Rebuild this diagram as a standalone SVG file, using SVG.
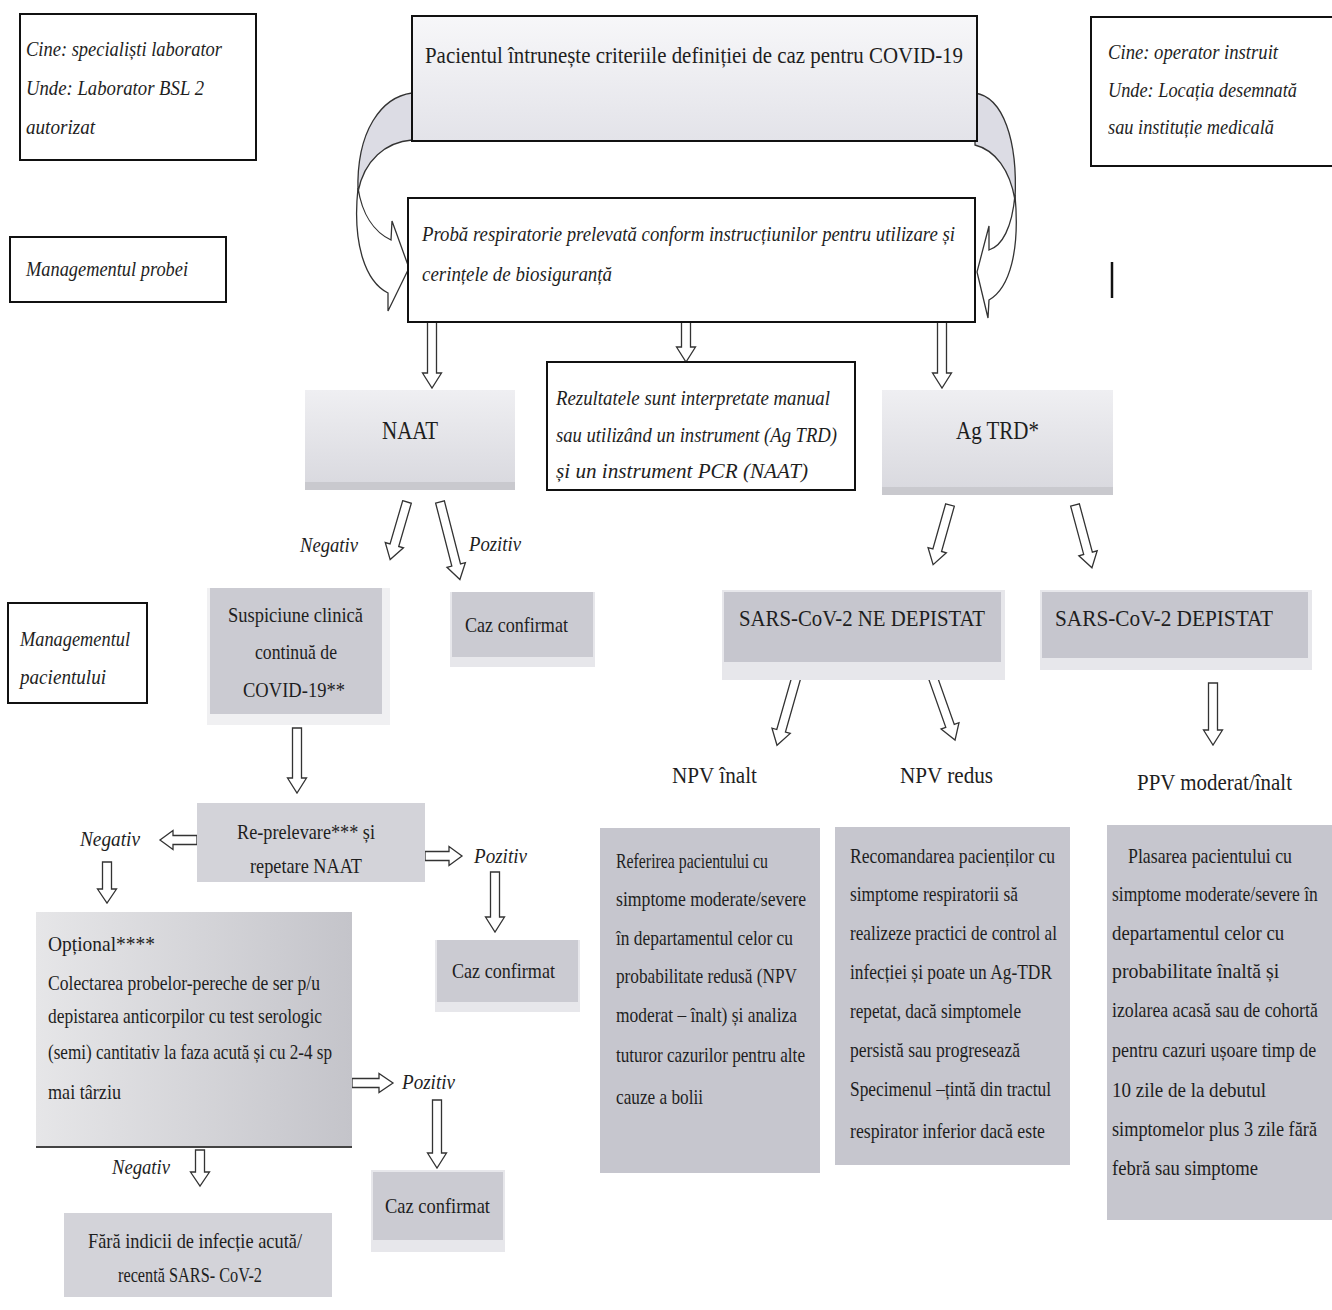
<svg xmlns="http://www.w3.org/2000/svg" width="1332" height="1310" viewBox="0 0 1332 1310">
<defs>
<linearGradient id="gTop" x1="0" y1="0" x2="0" y2="1"><stop offset="0" stop-color="#f7f7f9"/><stop offset="1" stop-color="#e3e3e9"/></linearGradient>
<linearGradient id="gLight" x1="0" y1="0" x2="0" y2="1"><stop offset="0" stop-color="#efeff2"/><stop offset="1" stop-color="#d8d8de"/></linearGradient>
<linearGradient id="gOpt" x1="0" y1="0" x2="1" y2="0"><stop offset="0" stop-color="#e6e6e8"/><stop offset="1" stop-color="#c4c4ca"/></linearGradient>
<style>
.t{font-family:"Liberation Serif","Times New Roman",serif;fill:#1e1e1e}
.i{font-style:italic}
.s20{font-size:20px}
.s21{font-size:21px}
.s24{font-size:24px}
.s26{font-size:26px}
.box{fill:#ffffff;stroke:#111111;stroke-width:2}
.gry{fill:#cbcbd2}
.mid{fill:#d3d3d9}
.strip{fill:#e7e7eb}
.arr{fill:#ffffff;stroke:#333333;stroke-width:1.3}
.band{fill:#dcdce4;stroke:#333333;stroke-width:1.3}
.bandw{fill:#ffffff;stroke:#333333;stroke-width:1.3}
</style>
</defs>
<rect width="1332" height="1310" fill="#ffffff"/>

<g id="connectors">
<path class="band" d="M412,93 C382,97 356,130 358,192 C364,160 386,142 412,140 Z"/>
<path class="bandw" d="M358,188 C362,214 374,232 391,240 L392,221 L409,268 L388,311 L388,293 C366,282 352,245 358,188 Z"/>
<path class="band" d="M975,93 C1003,97 1018,140 1015,200 C1010,170 995,150 975,145 Z"/>
<path class="bandw" d="M1015,195 C1012,228 1002,246 989,250 L989,226 L977,272 L988,318 L989,300 C1010,288 1020,250 1015,195 Z"/>
<path class="arr" transform="translate(432,322)" d="M-4.5,0 H4.5 V51 H9.5 L0,66 L-9.5,51 H-4.5 Z"/>
<path class="arr" transform="translate(686,322)" d="M-4.5,0 H4.5 V25 H9.5 L0,40 L-9.5,25 H-4.5 Z"/>
<path class="arr" transform="translate(942,322)" d="M-4.5,0 H4.5 V51 H9.5 L0,66 L-9.5,51 H-4.5 Z"/>
<path class="arr" transform="translate(407,502) rotate(16.3)" d="M-4.5,0 H4.5 V45 H9.5 L0,60 L-9.5,45 H-4.5 Z"/>
<path class="arr" transform="translate(440,502) rotate(-14.4)" d="M-4.5,0 H4.5 V65 H9.5 L0,80 L-9.5,65 H-4.5 Z"/>
<path class="arr" transform="translate(950,505) rotate(15.8)" d="M-4.5,0 H4.5 V47 H9.5 L0,62 L-9.5,47 H-4.5 Z"/>
<path class="arr" transform="translate(1075,505) rotate(-15.1)" d="M-4.5,0 H4.5 V50 H9.5 L0,65 L-9.5,50 H-4.5 Z"/>
<path class="arr" transform="translate(297,728)" d="M-4.5,0 H4.5 V50 H9.5 L0,65 L-9.5,50 H-4.5 Z"/>
<path class="arr" transform="translate(197,840) rotate(90)" d="M-4.5,0 H4.5 V24 H9.5 L0,37 L-9.5,24 H-4.5 Z"/>
<path class="arr" transform="translate(425,856) rotate(-90)" d="M-4.5,0 H4.5 V24 H9.5 L0,37 L-9.5,24 H-4.5 Z"/>
<path class="arr" transform="translate(107,862)" d="M-4.5,0 H4.5 V27 H9.5 L0,41 L-9.5,27 H-4.5 Z"/>
<path class="arr" transform="translate(495,872)" d="M-4.5,0 H4.5 V45 H9.5 L0,60 L-9.5,45 H-4.5 Z"/>
<path class="arr" transform="translate(352,1083) rotate(-90)" d="M-4.5,0 H4.5 V27 H9.5 L0,41 L-9.5,27 H-4.5 Z"/>
<path class="arr" transform="translate(437,1100)" d="M-4.5,0 H4.5 V53 H9.5 L0,68 L-9.5,53 H-4.5 Z"/>
<path class="arr" transform="translate(200,1150)" d="M-4.5,0 H4.5 V22 H9.5 L0,36 L-9.5,22 H-4.5 Z"/>
<path class="arr" transform="translate(797,675) rotate(15.9)" d="M-4.5,0 H4.5 V58 H9.5 L0,73 L-9.5,58 H-4.5 Z"/>
<path class="arr" transform="translate(932,675) rotate(-19.5)" d="M-4.5,0 H4.5 V54 H9.5 L0,69 L-9.5,54 H-4.5 Z"/>
<path class="arr" transform="translate(1213,683)" d="M-4.5,0 H4.5 V47 H9.5 L0,62 L-9.5,47 H-4.5 Z"/>
</g>

<g id="lbl-negativ1"><text class="t i s20" x="300" y="552" textLength="58" lengthAdjust="spacingAndGlyphs">Negativ</text></g>
<g id="lbl-pozitiv1"><text class="t i s20" x="469" y="551" textLength="52" lengthAdjust="spacingAndGlyphs">Pozitiv</text></g>
<g id="lbl-negativ2"><text class="t i s20" x="80" y="846" textLength="60" lengthAdjust="spacingAndGlyphs">Negativ</text></g>
<g id="lbl-pozitiv2"><text class="t i s20" x="474" y="863" textLength="53" lengthAdjust="spacingAndGlyphs">Pozitiv</text></g>
<g id="lbl-pozitiv3"><text class="t i s20" x="402" y="1089" textLength="53" lengthAdjust="spacingAndGlyphs">Pozitiv</text></g>
<g id="lbl-negativ3"><text class="t i s20" x="112" y="1174" textLength="58" lengthAdjust="spacingAndGlyphs">Negativ</text></g>
<g id="lbl-npv-inalt"><text class="t s24" x="672" y="783" textLength="85" lengthAdjust="spacingAndGlyphs">NPV înalt</text></g>
<g id="lbl-npv-redus"><text class="t s24" x="900" y="783" textLength="93" lengthAdjust="spacingAndGlyphs">NPV redus</text></g>
<g id="lbl-ppv"><text class="t s24" x="1137" y="790" textLength="155" lengthAdjust="spacingAndGlyphs">PPV moderat/înalt</text></g>
<line x1="1112" y1="262" x2="1112" y2="298" stroke="#111" stroke-width="2.5"/>

<g id="who-lab">
<rect class="box" x="20" y="14" width="236" height="146"/>
<text class="t i s20" x="26" y="56" textLength="196" lengthAdjust="spacingAndGlyphs">Cine: specialiști laborator</text>
<text class="t i s20" x="26" y="95" textLength="178" lengthAdjust="spacingAndGlyphs">Unde: Laborator BSL 2</text>
<text class="t i s20" x="26" y="134" textLength="69" lengthAdjust="spacingAndGlyphs">autorizat</text>
</g>
<g id="mgmt-proba">
<rect class="box" x="10" y="237" width="216" height="65"/>
<text class="t i s20" x="26" y="276" textLength="162" lengthAdjust="spacingAndGlyphs">Managementul probei</text>
</g>
<g id="who-op">
<rect class="box" x="1091" y="17" width="250" height="149"/>
<text class="t i s20" x="1108" y="59" textLength="170" lengthAdjust="spacingAndGlyphs">Cine: operator instruit</text>
<text class="t i s20" x="1108" y="97" textLength="189" lengthAdjust="spacingAndGlyphs">Unde: Locația desemnată</text>
<text class="t i s20" x="1108" y="134" textLength="166" lengthAdjust="spacingAndGlyphs">sau instituție medicală</text>
</g>
<g id="criteria">
<rect x="412" y="16" width="565" height="125" fill="url(#gTop)" stroke="#111" stroke-width="2"/>
<text class="t s24" x="425" y="63" textLength="538" lengthAdjust="spacingAndGlyphs">Pacientul întrunește criteriile definiției de caz pentru COVID-19</text>
</g>
<g id="proba">
<rect class="box" x="408" y="198" width="567" height="124"/>
<text class="t i s20" x="422" y="241" textLength="533" lengthAdjust="spacingAndGlyphs">Probă respiratorie prelevată conform instrucțiunilor pentru utilizare și</text>
<text class="t i s20" x="422" y="281" textLength="190" lengthAdjust="spacingAndGlyphs">cerințele de biosiguranță</text>
</g>
<g id="naat">
<rect x="305" y="390" width="210" height="100" fill="url(#gLight)"/>
<rect x="305" y="482" width="210" height="8" fill="#c9c9ce"/>
<text class="t s26" x="382" y="439" textLength="56" lengthAdjust="spacingAndGlyphs">NAAT</text>
</g>
<g id="rezultate">
<rect class="box" x="547" y="362" width="308" height="128"/>
<text class="t i s20" x="556" y="405" textLength="274" lengthAdjust="spacingAndGlyphs">Rezultatele sunt interpretate manual</text>
<text class="t i s20" x="556" y="442" textLength="281" lengthAdjust="spacingAndGlyphs">sau utilizând un instrument (Ag TRD)</text>
<text class="t i s20" x="556" y="478" textLength="252" lengthAdjust="spacingAndGlyphs">și un instrument PCR (NAAT)</text>
</g>
<g id="agtrd">
<rect x="882" y="390" width="231" height="105" fill="url(#gLight)"/>
<rect x="882" y="487" width="231" height="8" fill="#c9c9ce"/>
<text class="t s26" x="956" y="439" textLength="83" lengthAdjust="spacingAndGlyphs">Ag TRD*</text>
</g>
<g id="suspiciune">
<rect x="207" y="588" width="183" height="137" fill="#f0f0f2"/>
<rect x="210" y="588" width="172" height="126" class="gry"/>
<text class="t s21" x="228" y="622" textLength="135" lengthAdjust="spacingAndGlyphs">Suspiciune clinică</text>
<text class="t s21" x="255" y="659" textLength="82" lengthAdjust="spacingAndGlyphs">continuă de</text>
<text class="t s21" x="243" y="697" textLength="102" lengthAdjust="spacingAndGlyphs">COVID-19**</text>
</g>
<g id="caz1">
<rect x="450" y="592" width="145" height="75" class="strip"/>
<rect x="452" y="592" width="141" height="65" class="gry"/>
<text class="t s21" x="465" y="632" textLength="103" lengthAdjust="spacingAndGlyphs">Caz confirmat</text>
</g>
<g id="mgmt-pacient">
<rect class="box" x="8" y="603" width="139" height="100"/>
<text class="t i s20" x="20" y="646" textLength="110" lengthAdjust="spacingAndGlyphs">Managementul</text>
<text class="t i s20" x="20" y="684" textLength="86" lengthAdjust="spacingAndGlyphs">pacientului</text>
</g>
<g id="reprelevare">
<rect x="197" y="803" width="228" height="79" class="mid"/>
<text class="t s21" x="237" y="839" textLength="138" lengthAdjust="spacingAndGlyphs">Re-prelevare*** și</text>
<text class="t s21" x="250" y="873" textLength="112" lengthAdjust="spacingAndGlyphs">repetare NAAT</text>
</g>
<g id="caz2">
<rect x="435" y="940" width="145" height="72" class="strip"/>
<rect x="437" y="940" width="141" height="62" class="gry"/>
<text class="t s21" x="452" y="978" textLength="103" lengthAdjust="spacingAndGlyphs">Caz confirmat</text>
</g>
<g id="optional">
<rect x="36" y="912" width="316" height="236" fill="url(#gOpt)"/>
<line x1="36" y1="1147" x2="352" y2="1147" stroke="#444" stroke-width="2"/>
<text class="t s21" x="48" y="951" textLength="107" lengthAdjust="spacingAndGlyphs">Opțional****</text>
<text class="t s21" x="48" y="990" textLength="272" lengthAdjust="spacingAndGlyphs">Colectarea probelor-pereche de ser p/u</text>
<text class="t s21" x="48" y="1023" textLength="274" lengthAdjust="spacingAndGlyphs">depistarea anticorpilor cu test serologic</text>
<text class="t s21" x="48" y="1059" textLength="284" lengthAdjust="spacingAndGlyphs">(semi) cantitativ la faza acută și cu 2-4 sp</text>
<text class="t s21" x="48" y="1099" textLength="73" lengthAdjust="spacingAndGlyphs">mai târziu</text>
</g>
<g id="caz3">
<rect x="371" y="1170" width="134" height="82" class="strip"/>
<rect x="373" y="1172" width="130" height="68" class="gry"/>
<text class="t s21" x="385" y="1213" textLength="105" lengthAdjust="spacingAndGlyphs">Caz confirmat</text>
</g>
<g id="fara">
<rect x="64" y="1213" width="268" height="84" class="mid"/>
<text class="t s21" x="88" y="1248" textLength="214" lengthAdjust="spacingAndGlyphs">Fără indicii de infecție acută/</text>
<text class="t s21" x="118" y="1282" textLength="144" lengthAdjust="spacingAndGlyphs">recentă SARS- CoV-2</text>
</g>
<g id="ne-depistat">
<rect x="722" y="590" width="283" height="90" class="strip"/>
<rect x="724" y="592" width="277" height="70" fill="#c6c6ce"/>
<text class="t s24" x="739" y="626" textLength="246" lengthAdjust="spacingAndGlyphs">SARS-CoV-2 NE DEPISTAT</text>
</g>
<g id="depistat">
<rect x="1040" y="590" width="272" height="80" class="strip"/>
<rect x="1042" y="592" width="266" height="66" fill="#c6c6ce"/>
<text class="t s24" x="1055" y="626" textLength="218" lengthAdjust="spacingAndGlyphs">SARS-CoV-2 DEPISTAT</text>
</g>
<g id="referire">
<rect x="600" y="828" width="220" height="345" fill="#c6c6ce"/>
<text class="t s21" x="616" y="868" textLength="152" lengthAdjust="spacingAndGlyphs">Referirea pacientului cu</text>
<text class="t s21" x="616" y="906" textLength="190" lengthAdjust="spacingAndGlyphs">simptome moderate/severe</text>
<text class="t s21" x="616" y="945" textLength="177" lengthAdjust="spacingAndGlyphs">în departamentul celor cu</text>
<text class="t s21" x="616" y="983" textLength="181" lengthAdjust="spacingAndGlyphs">probabilitate redusă (NPV</text>
<text class="t s21" x="616" y="1022" textLength="181" lengthAdjust="spacingAndGlyphs">moderat – înalt) și analiza</text>
<text class="t s21" x="616" y="1062" textLength="189" lengthAdjust="spacingAndGlyphs">tuturor cazurilor pentru alte</text>
<text class="t s21" x="616" y="1104" textLength="87" lengthAdjust="spacingAndGlyphs">cauze a bolii</text>
</g>
<g id="recomandare">
<rect x="835" y="827" width="235" height="338" fill="#c6c6ce"/>
<text class="t s21" x="850" y="863" textLength="205" lengthAdjust="spacingAndGlyphs">Recomandarea pacienților cu</text>
<text class="t s21" x="850" y="901" textLength="168" lengthAdjust="spacingAndGlyphs">simptome respiratorii să</text>
<text class="t s21" x="850" y="940" textLength="207" lengthAdjust="spacingAndGlyphs">realizeze practici de control al</text>
<text class="t s21" x="850" y="979" textLength="202" lengthAdjust="spacingAndGlyphs">infecției și poate un Ag-TDR</text>
<text class="t s21" x="850" y="1018" textLength="171" lengthAdjust="spacingAndGlyphs">repetat, dacă simptomele</text>
<text class="t s21" x="850" y="1057" textLength="170" lengthAdjust="spacingAndGlyphs">persistă sau progresează</text>
<text class="t s21" x="850" y="1096" textLength="201" lengthAdjust="spacingAndGlyphs">Specimenul –țintă din tractul</text>
<text class="t s21" x="850" y="1138" textLength="195" lengthAdjust="spacingAndGlyphs">respirator inferior dacă este</text>
</g>
<g id="plasare">
<rect x="1107" y="825" width="225" height="395" fill="#c6c6ce"/>
<g transform="translate(1112,0) scale(0.82,1)">
<text class="t s21" x="19.5" y="863" textLength="200" lengthAdjust="spacingAndGlyphs">Plasarea pacientului cu</text>
<text class="t s21" x="0" y="901" textLength="251" lengthAdjust="spacingAndGlyphs">simptome moderate/severe în</text>
<text class="t s21" x="0" y="940" textLength="210" lengthAdjust="spacingAndGlyphs">departamentul celor cu</text>
<text class="t s21" x="0" y="978" textLength="204" lengthAdjust="spacingAndGlyphs">probabilitate înaltă și</text>
<text class="t s21" x="0" y="1017" textLength="251" lengthAdjust="spacingAndGlyphs">izolarea acasă sau de cohortă</text>
<text class="t s21" x="0" y="1057" textLength="249" lengthAdjust="spacingAndGlyphs">pentru cazuri ușoare timp de</text>
<text class="t s21" x="0" y="1097" textLength="188" lengthAdjust="spacingAndGlyphs">10 zile de la debutul</text>
<text class="t s21" x="0" y="1136" textLength="250" lengthAdjust="spacingAndGlyphs">simptomelor plus 3 zile fără</text>
<text class="t s21" x="0" y="1175" textLength="178" lengthAdjust="spacingAndGlyphs">febră sau simptome</text>
</g>
</g>
</svg>
